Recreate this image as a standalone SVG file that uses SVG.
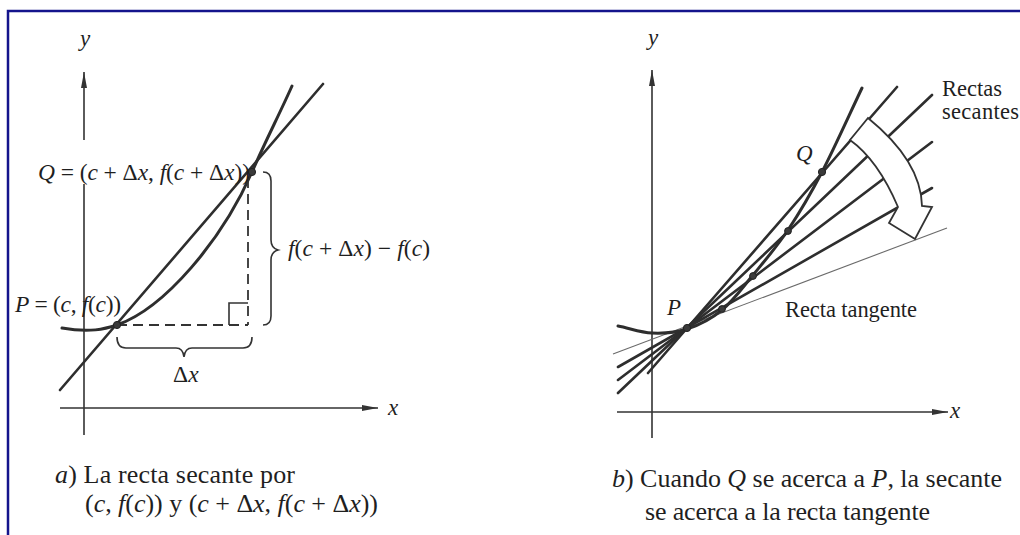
<svg xmlns="http://www.w3.org/2000/svg" width="1020" height="535" viewBox="0 0 1020 535">
  <style>
    .t { font-family: "Liberation Serif", "Times New Roman", serif; fill: #1f1f1f; }
    .i { font-style: italic; }
    .axis { stroke: #333; stroke-width: 1.6; fill: none; }
    .curve { stroke: #2e2e2e; stroke-width: 3; fill: none; stroke-linecap: round; }
    .sec { stroke: #2e2e2e; stroke-width: 2.6; fill: none; stroke-linecap: round; }
    .tan { stroke: #6a6a6a; stroke-width: 1.1; fill: none; }
    .dash { stroke: #333; stroke-width: 1.8; fill: none; stroke-dasharray: 10 6; }
    .thin { stroke: #333; stroke-width: 1.6; fill: none; }
    .dot { fill: #3a3a3a; stroke: #222; stroke-width: 1; }
  </style>
  <defs>
    <marker id="ah" viewBox="0 0 16 8" refX="16" refY="4" markerWidth="16" markerHeight="8" markerUnits="userSpaceOnUse" orient="auto">
      <path d="M0,1 L16,4 L0,7 Z" fill="#333"/>
    </marker>
  </defs>
  <rect width="1020" height="535" fill="#ffffff"/>
  <path d="M8,535 L8,11 L1020,11" fill="none" stroke="#14148c" stroke-width="2.5"/>

  <!-- Panel a -->
  <g id="panel-a">
    <g id="a-axes">
      <line class="axis" x1="84" y1="435" x2="84" y2="184"/>
      <line class="axis" x1="84" y1="140" x2="84" y2="72" marker-end="url(#ah)"/>
      <line class="axis" x1="60" y1="408" x2="378" y2="408" marker-end="url(#ah)"/>
      <text class="t i" x="80" y="46" font-size="23">y</text>
      <text class="t i" x="388" y="415" font-size="23">x</text>
    </g>
    <g id="a-lines">
      <line class="sec" x1="60" y1="390" x2="323" y2="84"/>
      <path class="curve" d="M62,328 C90,333 105,329 117,325 C165,308 222,240 252,172 C265,142 280,113 292,86"/>
      <path class="dash" d="M117,325 L248,325 M248,178 L248,325"/>
      <path class="thin" d="M229,325 L229,303 L248,303"/>
      <path class="thin" d="M263,172 Q271,172 271,181 L271,240 Q271,248 278,250 Q271,252 271,260 L271,316 Q271,325 263,325"/>
      <path class="thin" d="M117,337 Q117,348 126,348 L176,348 Q183,348 184,357 Q185,348 192,348 L243,348 Q252,348 252,337"/>
      <circle class="dot" cx="117" cy="325" r="3.6"/>
      <circle class="dot" cx="252" cy="172" r="3.6"/>
    </g>
    <g id="a-labels">
      <text class="t" x="38" y="180" font-size="23.5" textLength="212"><tspan class="i">Q</tspan> = (<tspan class="i">c</tspan> + Δ<tspan class="i">x</tspan>, <tspan class="i">f</tspan>(<tspan class="i">c</tspan> + Δ<tspan class="i">x</tspan>))</text>
      <text class="t" x="288" y="256" font-size="23.5" textLength="142"><tspan class="i">f</tspan>(<tspan class="i">c</tspan> + Δ<tspan class="i">x</tspan>) − <tspan class="i">f</tspan>(<tspan class="i">c</tspan>)</text>
      <text class="t" x="15" y="312" font-size="23.5" textLength="106"><tspan class="i">P</tspan> = (<tspan class="i">c</tspan>, <tspan class="i">f</tspan>(<tspan class="i">c</tspan>))</text>
      <text class="t" x="173" y="382" font-size="23.5">Δ<tspan class="i">x</tspan></text>
      <text class="t" x="55" y="483" font-size="26" textLength="240"><tspan class="i">a</tspan>) La recta secante por</text>
      <text class="t" x="85" y="512" font-size="26" textLength="293">(<tspan class="i">c</tspan>, <tspan class="i">f</tspan>(<tspan class="i">c</tspan>)) y (<tspan class="i">c</tspan> + Δ<tspan class="i">x</tspan>, <tspan class="i">f</tspan>(<tspan class="i">c</tspan> + Δ<tspan class="i">x</tspan>))</text>
    </g>
  </g>

  <!-- Panel b -->
  <g id="panel-b">
    <g id="b-axes">
      <line class="axis" x1="652" y1="438" x2="652" y2="70" marker-end="url(#ah)"/>
      <line class="axis" x1="617" y1="412" x2="948" y2="412" marker-end="url(#ah)"/>
      <text class="t i" x="648" y="45" font-size="23">y</text>
      <text class="t i" x="950" y="418" font-size="23">x</text>
    </g>
    <g id="b-lines">
      <line class="tan" x1="613" y1="354" x2="947" y2="228"/>
      <line class="sec" x1="648" y1="373" x2="897" y2="87"/>
      <line class="sec" x1="618" y1="393" x2="932" y2="95"/>
      <line class="sec" x1="618" y1="380" x2="932" y2="142"/>
      <line class="sec" x1="618" y1="367" x2="932" y2="188"/>
      <path class="curve" d="M618,326 C629,328 640.5,332.5 652,333 C663.5,333.5 675.3,332.8 687,329 C698.7,325.2 711,319 722,310 C733,301 742,288.3 753,275 C764,261.7 776.5,247.2 788,230 C799.5,212.8 809.7,195.7 822,172 C834.3,148.3 848.7,116 862,88"/>
      <circle class="dot" cx="687" cy="328" r="3.6"/>
      <circle class="dot" cx="722" cy="309" r="3.4"/>
      <circle class="dot" cx="753" cy="276" r="3.4"/>
      <circle class="dot" cx="788" cy="231" r="3.4"/>
      <circle class="dot" cx="822" cy="172" r="3.6"/>
    </g>
    <g id="b-arrow">
      <path d="M868,118 Q921,161 922,206 L932,207 L915,239 L889,223 L898,207 Q878,160 850,140 Z" fill="#ffffff" stroke="#333" stroke-width="1.8" stroke-linejoin="miter"/>
    </g>
    <g id="b-labels">
      <text class="t" x="942" y="96" font-size="22.5" textLength="60">Rectas</text>
      <text class="t" x="942" y="119" font-size="22.5" textLength="77">secantes</text>
      <text class="t i" x="796" y="161" font-size="23">Q</text>
      <text class="t i" x="667" y="315" font-size="23">P</text>
      <text class="t" x="785" y="317" font-size="22.5" textLength="132">Recta tangente</text>
      <text class="t" x="612" y="487" font-size="26" textLength="390"><tspan class="i">b</tspan>) Cuando <tspan class="i">Q</tspan> se acerca a <tspan class="i">P</tspan>, la secante</text>
      <text class="t" x="645" y="520" font-size="26" textLength="285">se acerca a la recta tangente</text>
    </g>
  </g>
</svg>
